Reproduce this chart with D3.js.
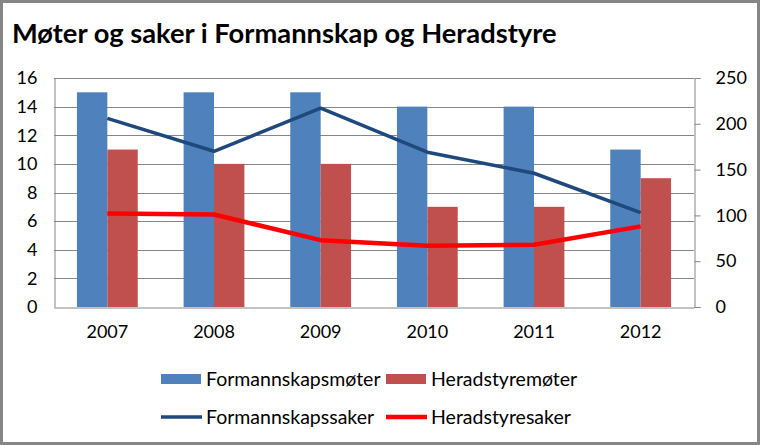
<!DOCTYPE html>
<html><head><meta charset="utf-8">
<script src="https://cdn.jsdelivr.net/npm/d3@7"></script>
<style>
html,body{margin:0;padding:0;background:#fff;}
svg{display:block;font-family:Lato,"Open Sans",sans-serif;}
</style></head>
<body><svg id="c" width="760" height="445"></svg>
<script>
const years = ["2007","2008","2009","2010","2011","2012"];
const formannskapsmoter = [15,15,15,14,14,11];
const heradstyremoter = [11,10,10,7,7,9];
const formannskapssaker = [206,170,217,169,146,103];
const heradstyresaker = [102,101,73,67,68,88];
const leftTicks = [0,2,4,6,8,10,12,14,16];
const rightTicks = [0,50,100,150,200,250];

const svg = d3.select("#c");
svg.append("rect").attr("x",1.5).attr("y",1.5).attr("width",757).attr("height",442)
  .attr("fill","#fff").attr("stroke","#868686").attr("stroke-width",3);

svg.append("text").attr("x",12).attr("y",43).attr("font-size",27.3).attr("font-weight","bold")
  .attr("fill","#000").text("Møter og saker i Formannskap og Heradstyre");

const L=54,R=694,T=78,B=307;
const x = d3.scaleBand().domain(years).range([L,R]).paddingInner(0.43).paddingOuter(0.215);
const x0 = d3.scaleBand().domain(years).range([L,R]);
const yL = d3.scaleLinear().domain([0,16]).range([B,T]);
const yR = d3.scaleLinear().domain([0,250]).range([B,T]);

// gridlines
svg.append("g").selectAll("line").data(leftTicks.slice(1)).join("line")
  .attr("x1",L).attr("x2",R).attr("y1",d=>Math.round(yL(d))+0.5).attr("y2",d=>Math.round(yL(d))+0.5)
  .attr("stroke","#868686").attr("stroke-width",1);

// bars
const bw = x.bandwidth()/2;
const g = svg.append("g");
g.selectAll(".b1").data(years).join("rect")
  .attr("x",d=>x(d)).attr("width",bw)
  .attr("y",(d,i)=>yL(formannskapsmoter[i])).attr("height",(d,i)=>B-yL(formannskapsmoter[i]))
  .attr("fill","#4F81BD");
g.selectAll(".b2").data(years).join("rect")
  .attr("x",d=>x(d)+bw).attr("width",bw)
  .attr("y",(d,i)=>yL(heradstyremoter[i])).attr("height",(d,i)=>B-yL(heradstyremoter[i]))
  .attr("fill","#C0504D");

// axes
const axL = d3.axisLeft(yL).tickValues(leftTicks).tickSize(0).tickPadding(17);
const gL = svg.append("g").attr("transform",`translate(${L+0.5},0)`).call(axL);
gL.select(".domain").attr("stroke","#868686");
gL.selectAll("text").attr("font-size",18).attr("fill","#000").attr("font-family","Lato,sans-serif");

const axR = d3.axisRight(yR).tickValues(rightTicks).tickSize(6).tickPadding(15);
const gR = svg.append("g").attr("transform",`translate(${R+0.5},0)`).call(axR);
gR.select(".domain").attr("stroke","#868686");
gR.selectAll("line").attr("stroke","#868686");
gR.selectAll("text").attr("font-size",18).attr("fill","#000").attr("font-family","Lato,sans-serif");

const axB = d3.axisBottom(x0).tickSize(0).tickPadding(18);
const gB = svg.append("g").attr("transform",`translate(0,${B+0.5})`).call(axB);
gB.select(".domain").attr("stroke","#868686");
gB.selectAll("text").attr("font-size",18).attr("fill","#000").attr("font-family","Lato,sans-serif");

// lines
const cx = d=>x0(d)+x0.bandwidth()/2;
const line = d3.line().x(d=>cx(d[0])).y(d=>yR(d[1]));
svg.append("path").datum(years.map((d,i)=>[d,formannskapssaker[i]]))
  .attr("d",line).attr("fill","none").attr("stroke","#1F497D").attr("stroke-width",3.5).attr("stroke-linejoin","round");
svg.append("path").datum(years.map((d,i)=>[d,heradstyresaker[i]]))
  .attr("d",line).attr("fill","none").attr("stroke","#FF0000").attr("stroke-width",4.5).attr("stroke-linejoin","round");

// legend
const lg = svg.append("g").attr("font-size",19.5).attr("fill","#000");
const items = [
  {t:"Formannskapsmøter",c:"#4F81BD",type:"rect",x:161,y:379},
  {t:"Heradstyremøter",c:"#C0504D",type:"rect",x:386,y:379},
  {t:"Formannskapssaker",c:"#1F497D",type:"line",x:161,y:417,w:3.5},
  {t:"Heradstyresaker",c:"#FF0000",type:"line",x:386,y:417,w:4.5}
];
items.forEach(it=>{
  if(it.type==="rect") lg.append("rect").attr("x",it.x).attr("y",it.y-5).attr("width",40).attr("height",10).attr("fill",it.c);
  else lg.append("line").attr("x1",it.x).attr("x2",it.x+41).attr("y1",it.y).attr("y2",it.y).attr("stroke",it.c).attr("stroke-width",it.w);
  lg.append("text").attr("x",it.x+45).attr("y",it.y).attr("dy","0.35em").text(it.t);
});
</script></body></html>
